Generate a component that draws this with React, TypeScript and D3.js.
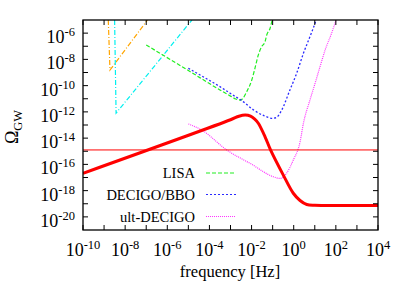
import React from "react";
import * as d3 from "d3";

// log10(frequency [Hz]) and log10(Omega_GW)
const signalLogF = [-10, -3.0, -2.6, -2.3, -2.05, -1.85, -1.68, -1.36, -1.1, -0.5, -0.02, 0.3, 0.62, 1.0, 1.5, 4];
const signalLogO = [-16.68, -12.6, -12.33, -12.24, -12.32, -12.55, -12.87, -13.9, -14.9, -16.8, -18.2, -18.75, -19.06, -19.12, -19.13, -19.13];

const refLineLogO = -14.9;

const lisaLogF = [-7, -5, -3.5, -3.0, -2.75, -2.55, -2.4, -2.23, -1.99, -1.84, -1.68, -1.52, -1.36, -1.28, -1.12, -1.04, -0.98];
const lisaLogO = [-6.9, -8.85, -10.33, -10.8, -11.02, -11.1, -10.95, -10.46, -9.57, -8.68, -7.67, -7.03, -6.65, -6.14, -5.63, -5.13, -4.9];

const decigoLogF = [-5, -4, -3.5, -3, -2.4, -1.9, -1.4, -1.0, -0.8, -0.57, -0.18, 0.14, 0.46, 0.77, 1.01, 1.1];
const decigoLogO = [-8.68, -9.6, -10.08, -10.6, -11.22, -11.86, -12.3, -12.49, -12.4, -11.86, -10.33, -9.06, -7.54, -6.27, -5.25, -4.8];

const ultLogF = [-5, -4.37, -3.18, -2.0, -0.97, -0.65, -0.35, -0.02, 0.3, 0.46, 0.77, 1.0, 1.25, 1.49, 1.8, 2.05];
const ultLogO = [-12.92, -13.38, -14.9, -15.99, -16.94, -17.07, -16.7, -15.67, -14.3, -12.87, -11.1, -9.9, -8.55, -7.29, -6.0, -4.8];

const orangeLogF = [-8.8, -8.72, -6.94];
const orangeLogO = [-5, -8.81, -5];

const cyanLogF = [-8.5, -8.43, -4.83];
const cyanLogO = [-5, -12.1, -5];

const xTickExps = [-10, -8, -6, -4, -2, 0, 2, 4];
const yTickExps = [-6, -8, -10, -12, -14, -16, -18, -20];

const legendLabels = ["LISA", "DECIGO/BBO", "ult-DECIGO"];

const W = 409, H = 286;
const L = 83, R = 378, T = 20, B = 230;

export default function App() {
  const x = d3.scaleLog().domain([1e-10, 1e4]).range([L, R]);
  const y = d3.scaleLog().domain([1e-21, 1e-5]).range([B, T]);
  const pts = (lf: number[], lo: number[]) => lf.map((f, i) => [Math.pow(10, f), Math.pow(10, lo[i])] as [number, number]);
  const smooth = d3.line<[number, number]>().x(d => x(d[0])).y(d => y(d[1])).curve(d3.curveMonotoneX);
  const round = d3.line<[number, number]>().x(d => x(d[0])).y(d => y(d[1])).curve(d3.curveCatmullRom.alpha(0.5));
  const straight = d3.line<[number, number]>().x(d => x(d[0])).y(d => y(d[1]));

  const xMinor = d3.range(-10, 5).map(e => Math.pow(10, e));
  const yMinor = d3.range(-20, -5).map(e => Math.pow(10, e));
  const tl = 5;
  const fontStyle = { fontFamily: '"Liberation Serif", "DejaVu Serif", serif' };

  const legendStyles = [
    { color: "#22ee22", dash: "4,2" },
    { color: "#2a2aff", dash: "2,2" },
    { color: "#ff33ff", dash: "1,1" },
  ];
  const legendY = [173, 194.5, 216.5];

  return (
    <svg width={W} height={H} style={{ position: "absolute", left: 0, top: 0, background: "#fff" }}>
      <defs>
        <clipPath id="plotclip">
          <rect x={L} y={T} width={R - L} height={B - T} />
        </clipPath>
      </defs>
      <rect width={W} height={H} fill="#fff" />
      <g clipPath="url(#plotclip)" fill="none">
        <path d={straight(pts(orangeLogF, orangeLogO)) || ""} stroke="#ffa500" strokeWidth={1.2} strokeDasharray="5,2,1,2" />
        <path d={straight(pts(cyanLogF, cyanLogO)) || ""} stroke="#00f0f0" strokeWidth={1.2} strokeDasharray="5,2,1,2" />
        <path d={smooth(pts(lisaLogF, lisaLogO)) || ""} stroke={legendStyles[0].color} strokeWidth={1.2} strokeDasharray={legendStyles[0].dash} />
        <path d={smooth(pts(decigoLogF, decigoLogO)) || ""} stroke={legendStyles[1].color} strokeWidth={1.3} strokeDasharray={legendStyles[1].dash} />
        <path d={smooth(pts(ultLogF, ultLogO)) || ""} stroke={legendStyles[2].color} strokeWidth={1.2} strokeDasharray={legendStyles[2].dash} />
        <line x1={L} x2={R} y1={y(Math.pow(10, refLineLogO))} y2={y(Math.pow(10, refLineLogO))} stroke="#ff0000" strokeWidth={1} />
        <path d={round(pts(signalLogF, signalLogO)) || ""} stroke="#ff0000" strokeWidth={3} strokeLinejoin="round" />
      </g>
      <g stroke="#000" strokeWidth={1}>
        {xMinor.map((v, i) => (
          <g key={"xt" + i}>
            <line x1={x(v)} x2={x(v)} y1={B} y2={B - tl} />
            <line x1={x(v)} x2={x(v)} y1={T} y2={T + tl} />
          </g>
        ))}
        {yMinor.map((v, i) => (
          <g key={"yt" + i}>
            <line x1={L} x2={L + tl} y1={y(v)} y2={y(v)} />
            <line x1={R} x2={R - tl} y1={y(v)} y2={y(v)} />
          </g>
        ))}
      </g>
      <rect x={L} y={T} width={R - L} height={B - T} fill="none" stroke="#000" strokeWidth={1.3} />
      <g style={fontStyle} fill="#000">
        {xTickExps.map(e => (
          <text key={"xl" + e} x={x(Math.pow(10, e))} y={256} textAnchor="middle" fontSize={18} style={fontStyle}>
            10<tspan dy={-7} fontSize={12.5}>{String(e)}</tspan>
          </text>
        ))}
        {yTickExps.map(e => (
          <text key={"yl" + e} x={75} y={y(Math.pow(10, e)) + 10} textAnchor="end" fontSize={18} style={fontStyle}>
            10<tspan dy={-7} fontSize={12.5}>{String(e)}</tspan>
          </text>
        ))}
        <text x={230} y={277} textAnchor="middle" fontSize={16.5} style={fontStyle}>frequency [Hz]</text>
        <text transform="translate(18,127) rotate(-90)" textAnchor="middle" fontSize={18} style={fontStyle}>
          Ω<tspan dy={4} fontSize={12.5}>GW</tspan>
        </text>
        {legendLabels.map((lab, i) => (
          <g key={lab}>
            <text x={195} y={legendY[i] + 5} textAnchor="end" fontSize={14.5} style={fontStyle}>{lab}</text>
            <line x1={206} x2={236} y1={legendY[i]} y2={legendY[i]} stroke={legendStyles[i].color} strokeWidth={1.2} strokeDasharray={legendStyles[i].dash} />
          </g>
        ))}
      </g>
    </svg>
  );
}
